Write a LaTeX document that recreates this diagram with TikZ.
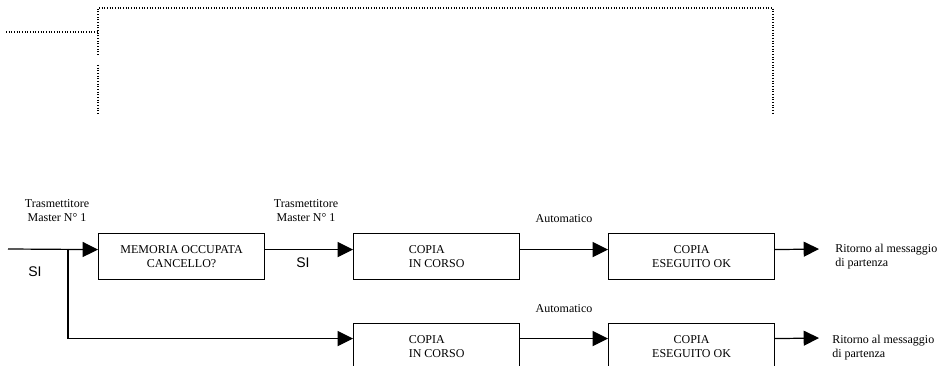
\documentclass[tikz,border=0pt]{standalone}
\usepackage{fontspec}
\setmainfont{Liberation Serif}
\newfontfamily\sifont{Liberation Sans}
\usetikzlibrary{arrows.meta,positioning}

\begin{document}
\begin{tikzpicture}[x=0.75pt,y=-0.75pt,
  box/.style={draw, line width=0.9pt, minimum width=124.5pt, minimum height=34.5pt, anchor=north west, inner sep=0pt, font=\fontsize{9}{10.5}\selectfont},
  lbl/.style={font=\fontsize{9}{10.5}\selectfont, align=center, inner sep=0pt},
  si/.style={font=\sifont\fontsize{10.5}{12}\selectfont, inner sep=0pt},
  flow/.style={line width=0.9pt, -{Triangle[length=11.5pt,width=11.25pt]}},
  frame/.style={line width=0.8pt, dash pattern=on 0.8pt off 1.2pt}]
\useasboundingbox (0,0) rectangle (942,366);
% frame in alto (tratteggiato)
\draw[frame] (6,32) -- (98,32);
\draw[frame] (98,55) -- (98,8) -- (773,8) -- (773,114);
\draw[frame] (98,65) -- (98,114);
% blocchi
\node[box, align=center] (mem) at (98,233) {MEMORIA OCCUPATA\\CANCELLO?};
\node[box, align=left] (cp1) at (353,233) {COPIA\\IN CORSO};
\node[box, align=center] (ok1) at (608,233) {COPIA\\ESEGUITO OK};
\node[box, align=left] (cp2) at (353,323) {COPIA\\IN CORSO};
\node[box, align=center] (ok2) at (608,323) {COPIA\\ESEGUITO OK};
% etichette
\node[lbl] (tx1) at (57,211) {Trasmettitore\\Master N° 1};
\node[lbl] (tx2) at (306,211) {Trasmettitore\\Master N° 1};
\node[si] (si1) at (35,272) {SI};
\node[si] (si2) at (303,263) {SI};
\node[lbl] (auto1) at (564,219) {Automatico};
\node[lbl] (auto2) at (564,309) {Automatico};
\node[lbl, anchor=west, align=left] (rit1) at (835,257) {Ritorno al messaggio\\di partenza};
\node[lbl, anchor=west, align=left] (rit2) at (832,348) {Ritorno al messaggio\\di partenza};
% collegamenti
\coordinate (in) at (8,249);
\coordinate (split) at (68,249);
\coordinate (out1) at (819,249);
\coordinate (out2) at (819,338);
\draw[flow] (in) -- ([yshift=5.25pt]mem.west);
\draw[flow] ([yshift=5.25pt]mem.east) -- ([yshift=5.25pt]cp1.west);
\draw[flow] ([yshift=5.25pt]cp1.east) -- ([yshift=5.25pt]ok1.west);
\draw[flow] ([yshift=5.25pt]ok1.east) -- (out1);
\draw[flow] (split) |- ([yshift=6pt]cp2.west);
\draw[flow] ([yshift=6pt]cp2.east) -- ([yshift=6pt]ok2.west);
\draw[flow] ([yshift=6pt]ok2.east) -- (out2);
\end{tikzpicture}
\end{document}
